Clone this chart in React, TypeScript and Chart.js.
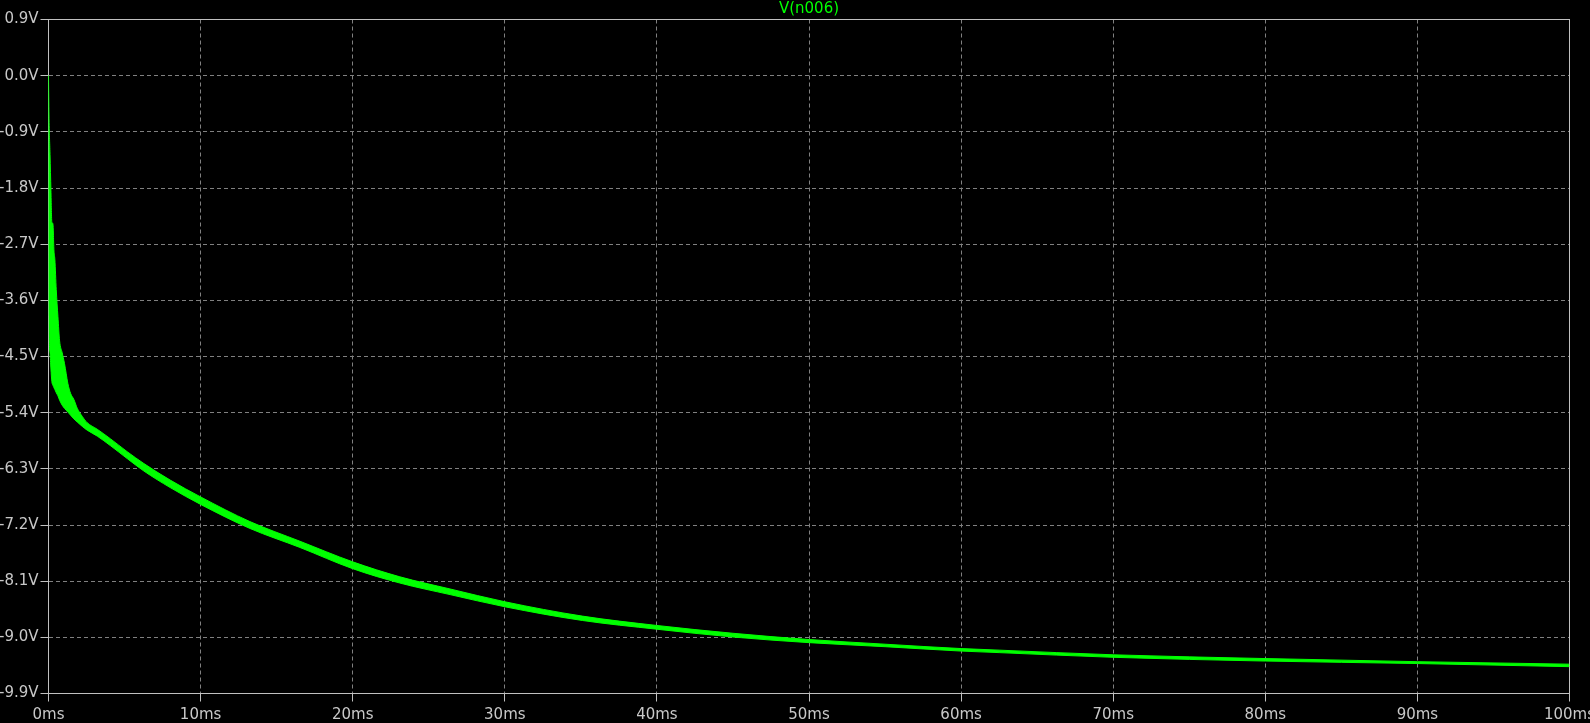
import React, { useEffect, useRef } from 'react';
import { Chart, registerables } from 'chart.js';

Chart.register(...registerables);

const TITLE = 'V(n006)';

// time in ms
const timeMs = [
  0, 0.03, 0.1, 0.16, 0.22, 0.29, 0.36, 0.42, 0.51, 0.62, 0.73, 0.9, 1.05, 1.16, 1.27, 1.45,
  1.67, 1.89, 2.22, 2.54, 3.2, 4.08, 5.17, 6.27, 8, 10, 13.24, 16.53, 20, 23.1, 26.4, 30, 35.1,
  40, 45, 50, 55, 60, 62.5, 70, 80, 90, 100,
];

// upper edge of the ripple band (V)
const upperV = [
  0, -0.63, -1.26, -1.84, -2.35, -2.37, -2.81, -2.95, -3.43, -3.86, -4.25, -4.44, -4.61, -4.77, -4.93, -5.09,
  -5.19, -5.33, -5.46, -5.56, -5.665, -5.82, -6.025, -6.215, -6.48, -6.75, -7.145, -7.46, -7.79, -8.03, -8.225, -8.43, -8.66,
  -8.81, -8.935, -9.035, -9.11, -9.18, -9.205, -9.28, -9.34, -9.39, -9.43,
];

// lower edge of the ripple band (V)
const lowerV = [
  0, -3.86, -4.45, -4.7, -4.9, -4.96, -5.0, -5.03, -5.08, -5.13, -5.2, -5.28, -5.33, -5.36, -5.39, -5.44,
  -5.5, -5.55, -5.62, -5.68, -5.775, -5.93, -6.135, -6.335, -6.6, -6.87, -7.255, -7.56, -7.9, -8.13, -8.315, -8.51, -8.73,
  -8.87, -8.995, -9.085, -9.15, -9.22, -9.245, -9.32, -9.38, -9.42, -9.47,
];

const xTickValues = [0, 10, 20, 30, 40, 50, 60, 70, 80, 90, 100];
const yTickValues = [0.9, 0, -0.9, -1.8, -2.7, -3.6, -4.5, -5.4, -6.3, -7.2, -8.1, -9.0, -9.9];

const TRACE = '#00ff00';
const FRAME = '#c0c0c0';
const GRID = '#808080';
const TEXT = '#c8c8c8';
const FONT = 'DejaVu Sans';

const framePlugin = {
  id: 'frame',
  beforeDatasetsDraw(chart: any) {
    const { ctx, chartArea } = chart;
    ctx.save();
    ctx.strokeStyle = FRAME;
    ctx.lineWidth = 1;
    ctx.setLineDash([]);
    ctx.strokeRect(chartArea.left, chartArea.top, chartArea.right - chartArea.left, chartArea.bottom - chartArea.top);
    ctx.restore();
  },
  afterDraw(chart: any) {
    const { ctx, chartArea } = chart;
    ctx.save();
    ctx.fillStyle = TRACE;
    ctx.font = `15px "${FONT}"`;
    ctx.textAlign = 'center';
    ctx.textBaseline = 'middle';
    ctx.fillText(TITLE, (chartArea.left + chartArea.right) / 2, 9.5);
    ctx.restore();
  },
};

export default function App() {
  const ref = useRef<HTMLCanvasElement | null>(null);

  useEffect(() => {
    if (!ref.current) return;
    const upper = timeMs.map((t, i) => ({ x: t, y: upperV[i] }));
    const lower = timeMs.map((t, i) => ({ x: t, y: lowerV[i] }));
    const common = {
      borderColor: TRACE,
      backgroundColor: TRACE,
      borderWidth: 1,
      pointRadius: 0,
      cubicInterpolationMode: 'monotone' as const,
    };
    const chart = new Chart(ref.current, {
      type: 'line',
      data: {
        datasets: [
          { ...common, data: upper, fill: false },
          { ...common, data: lower, fill: '-1' },
        ],
      },
      options: {
        animation: false,
        responsive: false,
        devicePixelRatio: 1,
        layout: { padding: { left: 0, top: 19.5, right: 20.5, bottom: 0 } },
        plugins: {
          legend: { display: false },
          tooltip: { enabled: false },
          title: { display: false },
        },
        scales: {
          x: {
            type: 'linear',
            min: 0,
            max: 100,
            afterFit(scale: any) {
              scale.height = 29.5;
              scale.paddingLeft = 0;
              scale.paddingRight = 0;
            },
            afterBuildTicks(scale: any) {
              scale.ticks = xTickValues.map((v) => ({ value: v }));
            },
            ticks: {
              color: TEXT,
              font: { family: FONT, size: 15 },
              padding: 5,
              maxRotation: 0,
              autoSkip: false,
              callback: (v: any) => `${v}ms`,
            },
            grid: { color: GRID, tickColor: FRAME, tickLength: 8 },
            border: { display: false, dash: [4, 3] },
          },
          y: {
            type: 'linear',
            min: -9.9,
            max: 0.9,
            afterFit(scale: any) {
              scale.width = 48.5;
              scale.paddingTop = 0;
              scale.paddingBottom = 0;
            },
            afterBuildTicks(scale: any) {
              scale.ticks = yTickValues.map((v) => ({ value: v }));
            },
            ticks: {
              color: TEXT,
              font: { family: FONT, size: 15 },
              padding: 2,
              autoSkip: false,
              callback: (v: any) => `${Number(v).toFixed(1)}V`,
            },
            grid: { color: GRID, tickColor: FRAME, tickLength: 8 },
            border: { display: false, dash: [4, 3] },
          },
        },
      },
      plugins: [framePlugin],
    });
    return () => chart.destroy();
  }, []);

  return (
    <div style={{ position: 'fixed', left: 0, top: 0, width: 1590, height: 723, background: '#000' }}>
      <canvas ref={ref} width={1590} height={723} style={{ display: 'block' }} />
    </div>
  );
}
